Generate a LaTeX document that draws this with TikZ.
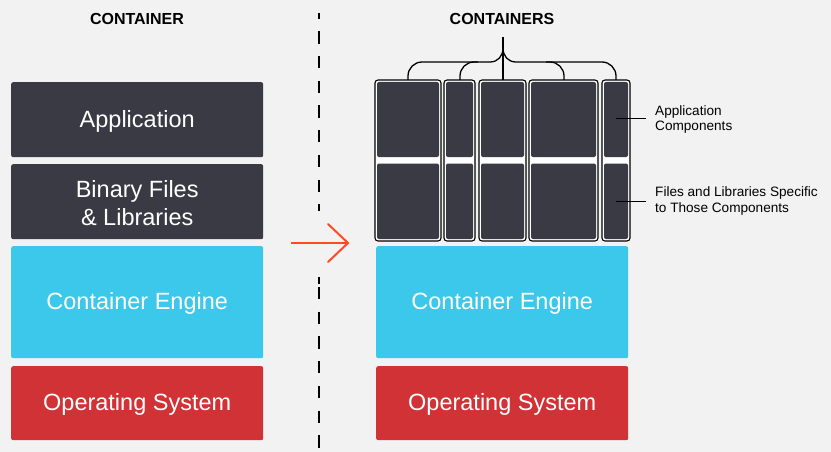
\documentclass[tikz,border=0pt]{standalone}
\usepackage{fontspec}
\setmainfont{Liberation Sans}
\usetikzlibrary{arrows.meta}
\definecolor{bg}{HTML}{F2F2F2}
\definecolor{darkbox}{HTML}{3A3A44}
\definecolor{cyanbox}{HTML}{3CC8EA}
\definecolor{redbox}{HTML}{D03236}
\definecolor{arrowc}{HTML}{FF4A24}
\tikzset{
  layer/.style={rounded corners=2pt, inner sep=0pt, anchor=north west},
  ltext/.style={text=white, font=\fontsize{23.5}{28}\selectfont, align=center, yshift=-1.5pt},
  header/.style={font=\bfseries\fontsize{16}{19}\selectfont, text=black},
  small/.style={font=\fontsize{13.6}{15.5}\selectfont, align=left, anchor=west, inner sep=0pt},
  colframe/.style={draw=black, line width=1.1pt, fill=white, rounded corners=3pt},
  colpart/.style={fill=darkbox, rounded corners=2pt},
  brace/.style={draw=black, line width=1.3pt},
  divider/.style={line width=1.3pt, dash pattern=on 12.3pt off 12.4pt},
}
\begin{document}
\begin{tikzpicture}[x=1pt,y=-1pt]
\fill[bg] (0,0) rectangle (831,452);
\useasboundingbox (0,0) rectangle (831,452);

% headers
\node[header] (h1) at (137,19) {CONTAINER};
\node[header] (h2) at (502,19) {CONTAINERS};

% dashed divider (interrupted by the arrow)
\coordinate (d1) at (319,13);
\coordinate (d2) at (319,211);
\coordinate (d3) at (319,287);
\coordinate (d4) at (319,452);
\draw[divider, dash phase=6.3pt] (d1) -- (d2);
\draw[divider] (d3) -- (d4);
\coordinate (d5) at (319,277);
\coordinate (d6) at (319,284);
\draw[line width=1.3pt] (d5) -- (d6);

% left stack
\node[layer, fill=darkbox, minimum width=252pt, minimum height=75pt] (app) at (11,82) {};
\node[ltext] (appt) at (app.center) {Application};
\node[layer, fill=darkbox, minimum width=252pt, minimum height=75pt] (bin) at (11,164) {};
\node[ltext] (bint) at (bin.center) {Binary Files\\ \& Libraries};
\node[layer, fill=cyanbox, minimum width=252pt, minimum height=112pt] (ce1) at (11,246) {};
\node[ltext] (ce1t) at (ce1.center) {Container Engine};
\node[layer, fill=redbox, minimum width=252pt, minimum height=74pt] (os1) at (11,366) {};
\node[ltext] (os1t) at (os1.center) {Operating System};

% right stack
\node[layer, fill=cyanbox, minimum width=252pt, minimum height=112pt] (ce2) at (376,246) {};
\node[ltext] (ce2t) at (ce2.center) {Container Engine};
\node[layer, fill=redbox, minimum width=252pt, minimum height=74pt] (os2) at (376,366) {};
\node[ltext] (os2t) at (os2.center) {Operating System};

% arrow
\coordinate (a1) at (291,243);
\coordinate (a2) at (348,243);
\draw[arrowc, line width=2pt] (a1) -- (a2);
\draw[arrowc, line width=2pt, line cap=round] (328,224) -- (a2) -- (328,262);

% container columns
\foreach \n/\xa/\xb in {c1/375/441, c2/444/475, c3/479/526, c4/529/598, c5/602/630}{
  \draw[colframe] (\xa,80) rectangle (\xb,241);
  \fill[colpart] (\xa+2,82) rectangle (\xb-2,157);
  \fill[colpart] (\xa+2,163.5) rectangle (\xb-2,239);
  \coordinate (\n) at ({(\xa+\xb)/2},80);
}

% brace
\coordinate (btop) at (503,37);
\draw[brace, rounded corners=14pt] (408,80) -- (408,62) -- (490,62);
\draw[brace] (490,62) .. controls (498,62) and (503,56) .. (503,48);
\draw[brace] (503,48) .. controls (503,56) and (508,62) .. (516,62);
\draw[brace, rounded corners=14pt] (516,62) -- (616,62) -- (616,80);
\draw[brace, rounded corners=14pt] (460,80) -- (460,62) -- (478,62);
\draw[brace, rounded corners=14pt] (564,80) -- (564,62) -- (546,62);
\draw[brace] (btop) -- (503,80);

% labels
\coordinate (p1) at (616,119);
\coordinate (p2) at (616,201);
\node[small] (l1) at (655,119.5) {Application\\Components};
\node[small] (l2) at (655,201) {Files and Libraries Specific\\to Those Components};
\draw[line width=1pt] (p1) -- (646,119);
\draw[line width=1pt] (p2) -- (646,201);
\end{tikzpicture}
\end{document}
